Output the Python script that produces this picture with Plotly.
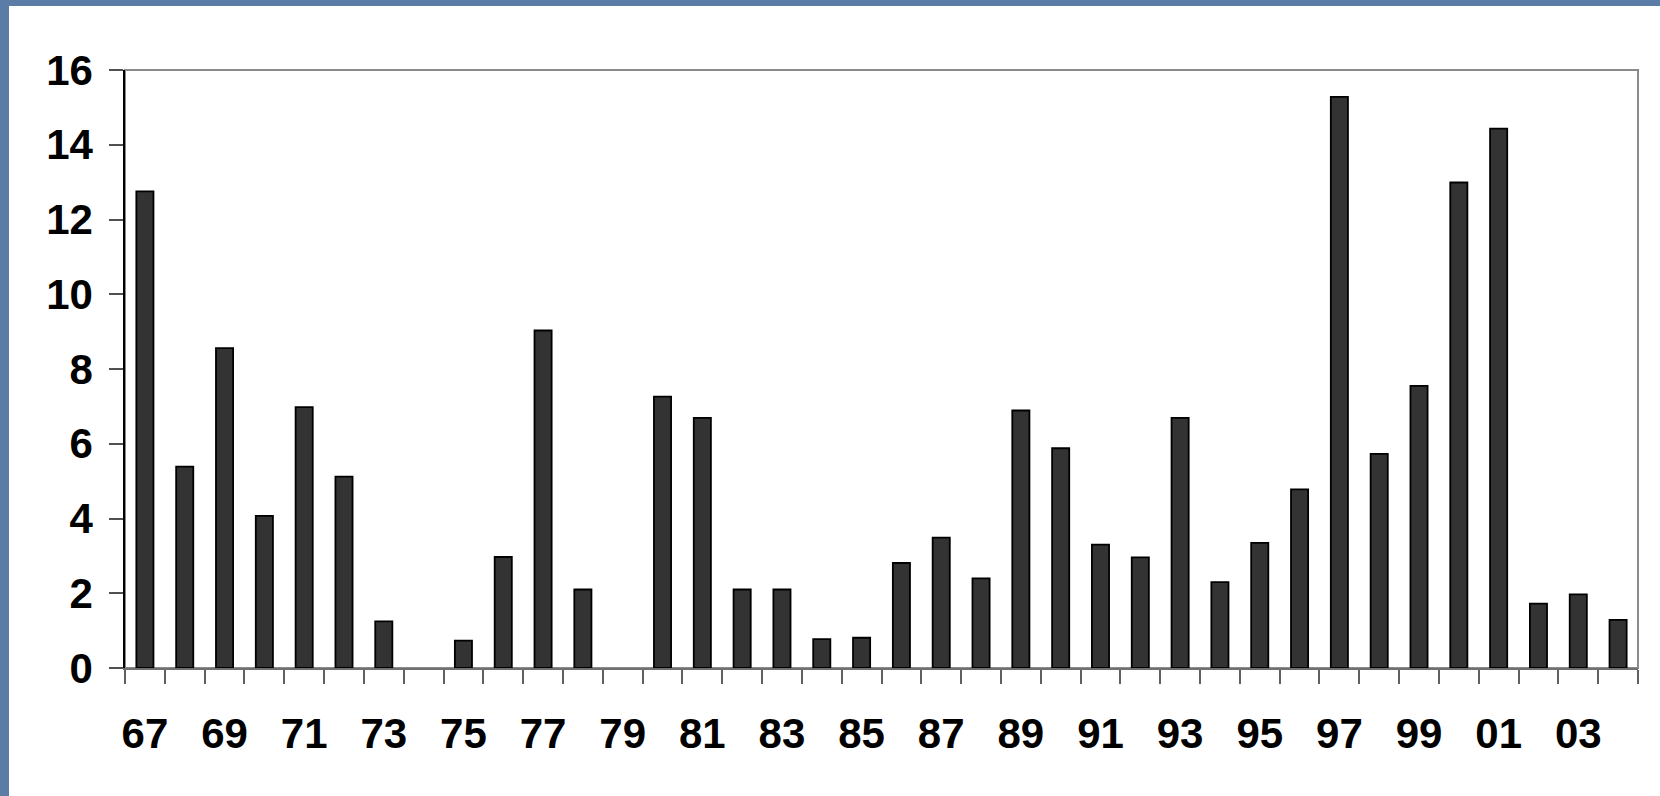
import plotly.graph_objects as go

years = ["67", "68", "69", "70", "71", "72", "73", "74", "75", "76",
         "77", "78", "79", "80", "81", "82", "83", "84", "85", "86",
         "87", "88", "89", "90", "91", "92", "93", "94", "95", "96",
         "97", "98", "99", "00", "01", "02", "03", "04"]
values = [12.75, 5.39, 8.56, 4.07, 6.98, 5.12, 1.25, 0.0, 0.73, 2.97,
          9.03, 2.10, 0.0, 7.26, 6.69, 2.10, 2.10, 0.77, 0.81, 2.81,
          3.49, 2.40, 6.89, 5.88, 3.30, 2.96, 6.69, 2.30, 3.35, 4.78,
          15.28, 5.73, 7.55, 12.99, 14.43, 1.72, 1.97, 1.29]
tick_labels = [y if i % 2 == 0 else "" for i, y in enumerate(years)]
y_ticks = [0, 2, 4, 6, 8, 10, 12, 14, 16]

W, H = 1660, 796
ml, mr, mt, mb = 125, 22, 70, 128
pw, ph = W - ml - mr, H - mt - mb

def px_x(p):
    return (p - ml) / pw

def px_y(p):
    return (H - mb - p) / ph

font = dict(family="Liberation Sans, Arial, sans-serif", size=42, color="black", weight="bold")

fig = go.Figure()
fig.add_trace(go.Bar(
    x=years, y=values, width=0.43,
    marker=dict(color="#333333",
                line=dict(color="black", width=[1.8 if v > 0 else 0 for v in values])),
    showlegend=False,
))

fig.update_layout(
    width=W, height=H,
    margin=dict(l=ml, r=mr, t=mt, b=mb, pad=0),
    paper_bgcolor="#5b7ca6",
    plot_bgcolor="rgba(0,0,0,0)",
    font=font,
    shapes=[
        dict(type="rect", xref="paper", yref="paper", layer="below",
             x0=px_x(9), x1=px_x(W + 5), y0=px_y(H + 5), y1=px_y(6),
             fillcolor="white", line=dict(width=0)),
        dict(type="rect", xref="paper", yref="paper", layer="below",
             x0=0, x1=1, y0=0, y1=1,
             fillcolor="rgba(0,0,0,0)", line=dict(color="#8a8a8a", width=2)),
    ],
    xaxis=dict(
        type="category",
        tickmode="array", tickvals=years, ticktext=tick_labels,
        tickson="boundaries", ticks="outside", ticklen=14, tickwidth=1.5,
        tickcolor="#606060", showline=True, linecolor="#707070", linewidth=1.5,
        showgrid=False, zeroline=False, tickangle=0,
        ticklabelstandoff=28, tickfont=font,
    ),
    yaxis=dict(
        range=[0, 16], tickmode="array", tickvals=y_ticks,
        ticks="outside", ticklen=14, tickwidth=1.5, tickcolor="#505050",
        showline=True, linecolor="black", linewidth=1.5,
        showgrid=False, zeroline=False,
        ticklabelstandoff=8, tickfont=font,
    ),
    bargap=0.57,
)

fig.write_html("out.html", config={"displayModeBar": False},
               post_script="document.body.style.margin='0';document.body.style.overflow='hidden';")
